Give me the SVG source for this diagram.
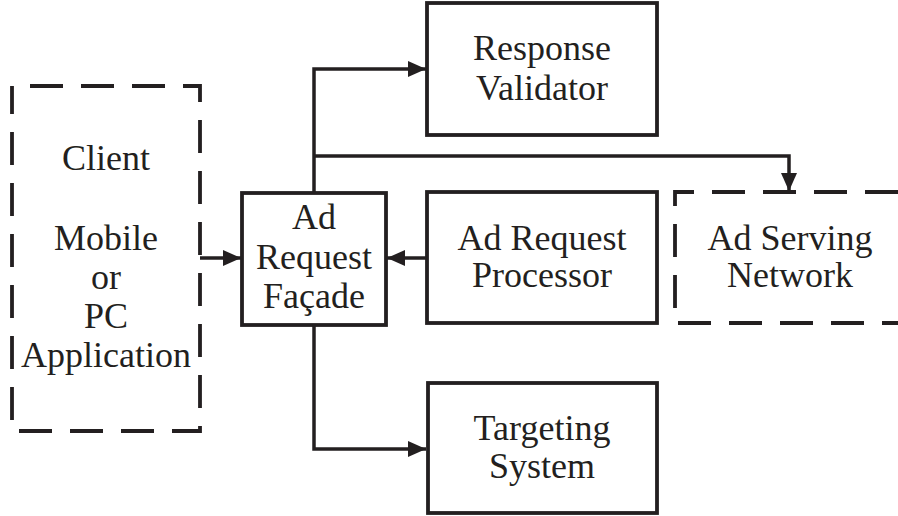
<svg xmlns="http://www.w3.org/2000/svg" width="898" height="516" viewBox="0 0 898 516">
  <style>
    .box { fill: none; stroke: #231f20; stroke-width: 3.8; }
    .dash { fill: none; stroke: #231f20; stroke-width: 3.8; stroke-dasharray: 33 18; }
    .wire { fill: none; stroke: #231f20; stroke-width: 3.5; }
    text { font-family: "Liberation Serif", "Times New Roman", serif; font-size: 36px; fill: #231f20; text-anchor: middle; }
  </style>
  <defs>
    <marker id="arrow" viewBox="0 0 18 16" refX="18" refY="8" markerWidth="18" markerHeight="16" markerUnits="userSpaceOnUse" orient="auto">
      <path d="M0,0 L18,8 L0,16 Z" fill="#231f20"/>
    </marker>
  </defs>

  <!-- connectors -->
  <g id="connectors">
    <path class="wire" d="M200,258 H241" marker-end="url(#arrow)"/>
    <path class="wire" d="M427,258 H387" marker-end="url(#arrow)"/>
    <path class="wire" d="M314,193 V69 H426" marker-end="url(#arrow)"/>
    <path class="wire" d="M314,156 H789 V191" marker-end="url(#arrow)"/>
    <path class="wire" d="M314,325 V449 H426" marker-end="url(#arrow)"/>
  </g>

  <g id="client">
    <rect class="dash" x="12" y="86" width="188" height="345" stroke-dashoffset="33"/>
    <text x="106" y="170">Client</text>
    <text x="106" y="250">Mobile</text>
    <text x="106" y="289">or</text>
    <text x="106" y="328">PC</text>
    <text x="106" y="367">Application</text>
  </g>

  <g id="facade">
    <rect class="box" x="242" y="193" width="144" height="132"/>
    <text x="314" y="229">Ad</text>
    <text x="314" y="269">Request</text>
    <text x="314" y="308">Façade</text>
  </g>

  <g id="response-validator">
    <rect class="box" x="427" y="3" width="230" height="132"/>
    <text x="542" y="60">Response</text>
    <text x="542" y="100">Validator</text>
  </g>

  <g id="request-processor">
    <rect class="box" x="427" y="192" width="230" height="131"/>
    <text x="542" y="250">Ad Request</text>
    <text x="542" y="287">Processor</text>
  </g>

  <g id="ad-serving-network">
    <path class="dash" d="M898,192 H675 V323 H898" stroke-dasharray="34 19"/>
    <text x="790" y="250">Ad Serving</text>
    <text x="790" y="287">Network</text>
  </g>

  <g id="targeting-system">
    <rect class="box" x="428" y="383" width="229" height="130"/>
    <text x="542" y="440">Targeting</text>
    <text x="542" y="478">System</text>
  </g>
</svg>
